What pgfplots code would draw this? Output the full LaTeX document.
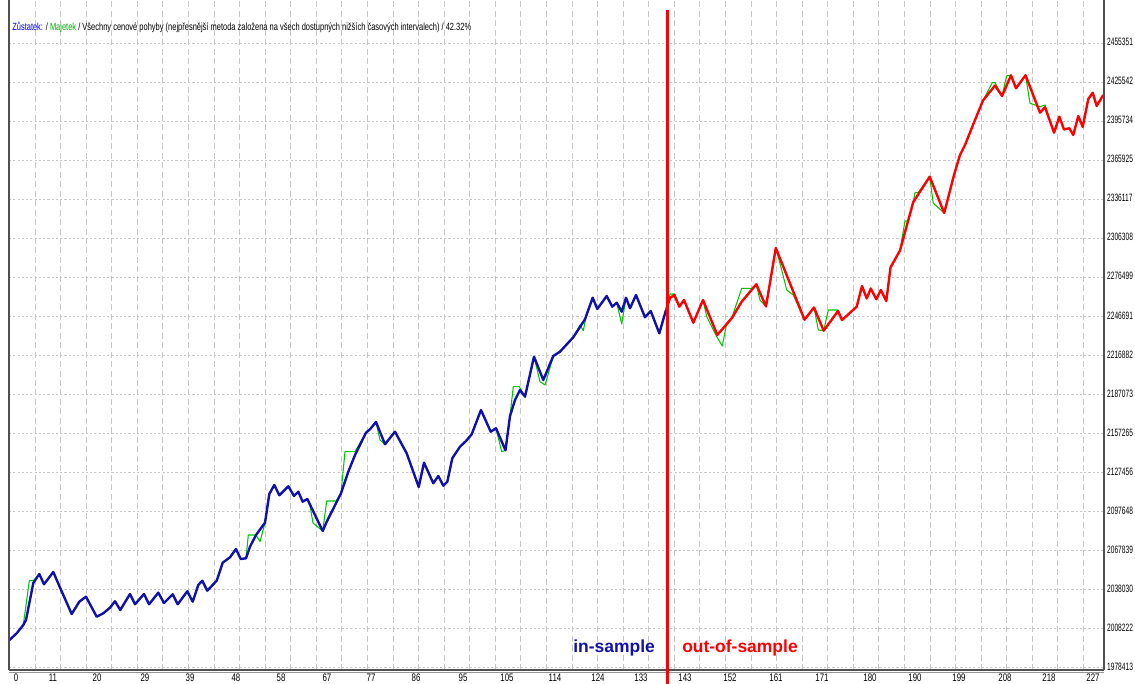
\documentclass[border=0pt]{standalone}
\usepackage{pgfplots}
\usepackage{pgfplotstable}
\pgfplotsset{compat=1.18}
\usepackage{fontspec}
\setmainfont{Liberation Sans}[FakeStretch=0.72]
\newfontfamily\labfont{Liberation Sans}
\newfontfamily\ylabfont{Liberation Sans}[FakeStretch=0.62]
\definecolor{balblue}{RGB}{16,16,170}
\definecolor{eqgreen}{RGB}{0,200,0}
\definecolor{gridgray}{RGB}{200,200,200}
\definecolor{axgray}{RGB}{80,80,80}
\definecolor{hdrblue}{RGB}{0,0,230}
\definecolor{hdrgreen}{RGB}{0,170,0}

\pgfplotstableread{
t v
0.10 1999781
1.60 2004894
2.97 2011228
3.53 2015044
5.05 2043281
6.29 2050149
7.27 2042289
9.20 2051675
10.45 2040991
13.02 2019623
14.60 2029010
15.99 2032826
18.21 2017563
19.58 2020157
20.98 2024431
22.01 2029315
23.11 2022676
25.13 2034886
26.17 2027026
28.04 2034886
29.08 2027026
31.01 2035878
32.19 2028018
34.00 2034657
35.04 2027026
37.03 2036947
38.15 2029010
39.31 2041754
40.14 2045036
41.18 2037405
43.14 2045036
44.38 2058773
45.90 2062894
47.14 2069228
48.12 2061596
49.22 2062131
50.05 2070983
51.30 2079912
53.17 2089298
54.06 2111201
55.10 2118069
56.14 2110209
58.01 2117077
59.19 2109675
60.08 2112956
60.99 2105325
61.95 2107385
65.15 2082965
65.98 2090061
68.95 2111735
70.47 2128219
71.86 2140964
74.14 2157982
74.97 2160577
76.22 2166148
78.09 2149130
80.16 2158745
82.59 2142261
85.09 2116543
86.19 2135088
88.12 2119367
89.16 2124938
90.20 2117535
91.03 2120588
92.06 2138446
93.66 2147298
94.91 2151648
96.09 2156761
98.02 2175306
100.04 2158745
101.14 2161340
103.11 2144550
104.05 2170727
105.09 2182937
106.12 2190569
107.16 2185456
109.03 2215982
110.96 2198200
113.04 2216516
114.43 2219797
117.19 2230787
119.62 2244523
121.22 2261007
122.18 2252384
124.13 2262305
125.29 2254139
126.21 2257192
127.25 2250323
128.14 2261007
128.97 2252918
130.22 2263068
132.08 2246050
133.27 2250858
135.05 2233839
136.45 2251621
}\insample

\pgfplotstableread{
t v
136.45 2251621
137.28 2260779
138.17 2263068
139.21 2254139
140.18 2259252
142.12 2241929
144.13 2259252
147.10 2232542
150.09 2245287
152.17 2257955
155.20 2271234
157.21 2254292
159.25 2298936
165.21 2244218
167.18 2253529
169.19 2235823
172.17 2250858
173.00 2243989
176.05 2254139
177.15 2269936
178.13 2260397
178.96 2268028
180.12 2259786
181.06 2266884
182.20 2258489
183.07 2284055
185.04 2297028
187.80 2334041
191.21 2353349
194.22 2325646
196.26 2354646
197.50 2369909
198.54 2377540
200.41 2394711
202.28 2411501
204.77 2422948
206.23 2414935
208.10 2430732
209.13 2420811
211.11 2430732
214.12 2402190
215.16 2406388
217.03 2386927
218.13 2399137
219.10 2389369
220.21 2390285
221.03 2385172
222.07 2399672
222.99 2391277
224.15 2412645
225.06 2417453
225.89 2407303
227.26 2415698
}\outsample

\pgfplotstableread{
t v
0.10 1999781
1.60 2004894
2.97 2011228
4.22 2045036
5.05 2045036
6.29 2050149
7.27 2042289
9.20 2051675
10.45 2040991
13.02 2019623
14.60 2029010
15.99 2032826
18.21 2017563
19.58 2020157
20.98 2024431
22.01 2029315
23.11 2022676
25.13 2034886
26.17 2027026
28.04 2034886
29.08 2027026
31.01 2035878
32.19 2028018
34.00 2034657
35.04 2027026
37.03 2036947
38.15 2029010
39.31 2041754
40.14 2045036
41.18 2037405
43.14 2045036
44.38 2058773
45.90 2062894
47.14 2069228
48.12 2061596
49.22 2062131
49.70 2079912
51.30 2079912
52.13 2074800
53.17 2089298
54.06 2111201
55.10 2118069
56.14 2110209
58.01 2117077
59.19 2109675
60.08 2112956
60.99 2105325
61.95 2107385
62.51 2102806
63.13 2089070
65.15 2082965
65.98 2105859
67.91 2105859
68.95 2111735
69.78 2143483
71.86 2143483
74.14 2157982
74.97 2160577
76.22 2166148
77.05 2152411
78.09 2149130
80.16 2158745
82.59 2142261
85.09 2116543
86.19 2135088
88.12 2119367
89.16 2124938
90.20 2117535
91.03 2120588
92.06 2138446
93.66 2147298
94.91 2151648
96.09 2156761
98.02 2175306
100.04 2158745
101.14 2161340
102.32 2143483
103.11 2144550
104.05 2170727
104.73 2193087
105.98 2193087
107.16 2185456
109.03 2215982
110.28 2196903
111.32 2194384
113.04 2216516
114.43 2219797
117.19 2230787
118.59 2240173
119.27 2235823
119.98 2249102
121.22 2261007
122.18 2252384
124.13 2262305
125.29 2254139
126.21 2257192
127.25 2240937
128.14 2261007
128.97 2252918
130.22 2263068
132.08 2246050
133.27 2250858
135.05 2233839
136.45 2251621
137.28 2263831
138.31 2263831
139.21 2254139
140.18 2259252
142.12 2241929
144.13 2259252
144.90 2246509
146.98 2231245
148.14 2224147
149.05 2241471
150.09 2245287
152.17 2268179
154.24 2268179
155.20 2271234
155.97 2259252
157.21 2254292
159.25 2298936
160.47 2282147
161.51 2266884
162.88 2263068
165.21 2244218
167.18 2253529
168.08 2236358
169.19 2235823
170.15 2251621
172.17 2251621
173.00 2243989
176.05 2254139
177.15 2269936
178.13 2260397
178.96 2268028
180.12 2259786
181.06 2266884
182.20 2258489
183.07 2284055
185.04 2297028
186.08 2319541
186.77 2319541
187.80 2334041
188.16 2341138
188.84 2341138
191.21 2353349
191.96 2333049
194.22 2325646
196.26 2354646
197.50 2369909
198.54 2377540
200.41 2394711
202.28 2411501
204.21 2425085
204.77 2425085
206.23 2414935
207.20 2430427
208.10 2430732
209.13 2420811
211.11 2430732
212.04 2409364
214.12 2406770
215.16 2408066
217.03 2386927
218.13 2399137
219.10 2389369
220.21 2390285
221.03 2385172
222.07 2399672
222.99 2391277
224.15 2412645
225.06 2417453
225.89 2407303
227.26 2415698
}\equity

\begin{document}
\begin{tikzpicture}
\begin{axis}[
  at={(0,0)}, anchor=south west,
  scale only axis, width=821.25pt, height=502.5pt,
  xmin=0, xmax=227.41, ymin=1976887, ymax=2488197,
  axis line style={draw=none},
  clip=false,
  xtick={1.45,9.14,18.28,28.24,37.59,47.14,56.49,66.04,75.18,84.53,94.29,103.43,113.39,122.32,131.25,140.39,149.74,159.29,168.84,178.81,188.16,197.30,206.85,215.99,225.12},
  xticklabels={0,11,20,29,39,48,58,67,77,86,95,105,114,124,133,143,152,161,171,180,190,199,208,218,227},
  minor xtick={5.40,10.711,...,224},
  ytick={1978413,2008222,2038030,2067839,2097648,2127456,2157265,2187073,2216882,2246691,2276499,2306308,2336117,2365925,2395734,2425542,2455351},
  yticklabels={1978413,2008222,2038030,2067839,2097648,2127456,2157265,2187073,2216882,2246691,2276499,2306308,2336117,2365925,2395734,2425542,2455351},
  yticklabel pos=right,
  xmajorgrids=false, xminorgrids=true, ymajorgrids=true,
  major grid style={gridgray, line width=0.75pt, dash pattern=on 1.6pt off 1.6pt},
  minor grid style={gridgray, line width=0.75pt, dash pattern=on 4.5pt off 2.6pt},
  major tick length=0pt, minor tick length=0pt,
  tick label style={font=\fontsize{8.2}{9}\selectfont, text=black},
  yticklabel style={anchor=west, inner sep=0pt, xshift=2.2pt, yshift=0.8pt, font=\ylabfont\fontsize{8.0}{9}\selectfont},
  xticklabel style={anchor=north, inner sep=0pt, yshift=-3.0pt},
]
\addplot[eqgreen, line width=0.8pt, line join=round] table[x=t,y=v] {\equity};
\addplot[balblue, line width=1.8pt, line join=round] table[x=t,y=v] {\insample};
\addplot[red, line width=1.8pt, line join=round] table[x=t,y=v] {\outsample};

% frame
\draw[axgray, line width=0.9pt] (rel axis cs:0,0) -- (rel axis cs:0,1);
\draw[axgray, line width=0.9pt] (rel axis cs:1,0) -- (rel axis cs:1,1);
\draw[axgray, line width=1.4pt] (rel axis cs:0,0) -- (rel axis cs:1,0);
\draw[axgray!60, line width=0.8pt] ([yshift=-2pt]rel axis cs:0,0) -- ([yshift=-2pt]rel axis cs:1,0);

% separator
\draw[red, line width=2.8pt] (rel axis cs:0.6014,0.985) -- (rel axis cs:0.6014,-0.03);

\node[anchor=base west, inner sep=0pt, text=balblue] at (rel axis cs:0.5151,0.0254) {\labfont\bfseries\fontsize{13.1}{14}\selectfont in-sample};
\node[anchor=base west, inner sep=0pt, text=red] at (rel axis cs:0.6146,0.0254) {\labfont\bfseries\fontsize{13.1}{14}\selectfont out-of-sample};

\node[anchor=west, inner sep=0pt, font=\fontsize{7.8}{9}\selectfont] at (rel axis cs:0.00274,0.9597)
 {\textcolor{hdrblue}{Zůstatek:} / \textcolor{hdrgreen}{Majetek} / Všechny cenové pohyby (nejpřesnější metoda založena na všech dostupných nižších časových intervalech) / 42.32\%};
\end{axis}
\pgfresetboundingbox
\path[use as bounding box] (-6.75pt,-10.5pt) rectangle (844.5pt,502.5pt);
\end{tikzpicture}
\end{document}
